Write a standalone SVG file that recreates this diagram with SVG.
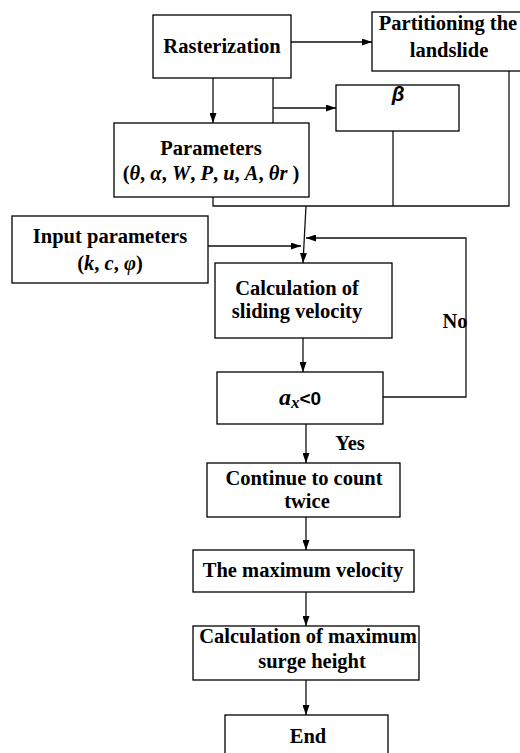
<svg xmlns="http://www.w3.org/2000/svg" width="520" height="753" viewBox="0 0 520 753">
<style>
.box{fill:#fff;stroke:#000;stroke-width:1.3}
.ln{fill:none;stroke:#111;stroke-width:1.3}
.t{font-family:"Liberation Serif","Times New Roman",serif;font-weight:bold;font-size:20.5px;fill:#000;text-anchor:middle}
.i{font-style:italic}
.s{font-family:"Liberation Sans",Arial,sans-serif}
</style>
<defs>
<marker id="ah" viewBox="0 0 10 7" refX="10" refY="3.5" markerWidth="10" markerHeight="7" markerUnits="userSpaceOnUse" orient="auto">
<path d="M0,0 L10,3.5 L0,7 Z" fill="#000"/>
</marker>
</defs>
<rect width="520" height="753" fill="#fff"/>
<g id="connectors">
<line class="ln" x1="291" y1="42" x2="372" y2="42" marker-end="url(#ah)"/>
<line class="ln" x1="213" y1="78" x2="213" y2="123" marker-end="url(#ah)"/>
<polyline class="ln" points="273,78 273,123"/>
<line class="ln" x1="273" y1="108" x2="336" y2="108" marker-end="url(#ah)"/>
<polyline class="ln" points="213,197 213,206 509,206 509,71"/>
<line class="ln" x1="393" y1="131" x2="393" y2="206"/>
<line class="ln" x1="306" y1="206" x2="303" y2="263" marker-end="url(#ah)"/>
<line class="ln" x1="208" y1="246" x2="301" y2="246" marker-end="url(#ah)"/>
<polyline class="ln" points="383,397 466,397 466,238 306,238" marker-end="url(#ah)"/>
<line class="ln" x1="303" y1="338" x2="303" y2="372" marker-end="url(#ah)"/>
<line class="ln" x1="306" y1="424" x2="306" y2="463" marker-end="url(#ah)"/>
<line class="ln" x1="306" y1="517" x2="306" y2="550" marker-end="url(#ah)"/>
<line class="ln" x1="306" y1="592" x2="306" y2="626" marker-end="url(#ah)"/>
<line class="ln" x1="306" y1="680" x2="306" y2="715" marker-end="url(#ah)"/>
<text class="t" x="455" y="328" font-size="19.5">No</text>
<text class="t" x="350" y="450" font-size="19.5">Yes</text>
</g>
<g id="rasterization">
<rect class="box" x="153" y="15" width="138" height="63"/>
<text class="t" x="222" y="53">Rasterization</text>
</g>
<g id="partitioning">
<rect class="box" x="372" y="12" width="160" height="59"/>
<text class="t" x="448" y="30">Partitioning the</text>
<text class="t" x="449" y="57">landslide</text>
</g>
<g id="beta">
<rect class="box" x="336" y="85" width="123" height="46"/>
<text class="t s i" x="398" y="101" font-size="17">β</text>
</g>
<g id="parameters">
<rect class="box" x="114" y="123" width="195" height="74"/>
<text class="t" x="211" y="155">Parameters</text>
<text class="t" x="211" y="180">(<tspan class="i">θ</tspan>, <tspan class="i">α</tspan>, <tspan class="i">W</tspan>, <tspan class="i">P</tspan>, <tspan class="i">u</tspan>, <tspan class="i">A</tspan>, <tspan class="i">θr</tspan> )</text>
</g>
<g id="input">
<rect class="box" x="12" y="216" width="196" height="67"/>
<text class="t" x="110" y="243">Input parameters</text>
<text class="t" x="110" y="270">(<tspan class="i">k</tspan>, <tspan class="i">c</tspan>, <tspan class="i">φ</tspan>)</text>
</g>
<g id="calc-velocity">
<rect class="box" x="215" y="263" width="177" height="75"/>
<text class="t" x="297" y="295">Calculation of</text>
<text class="t" x="297" y="318">sliding velocity</text>
</g>
<g id="ax">
<rect class="box" x="217" y="372" width="166" height="52"/>
<text class="t" x="300" y="405"><tspan class="i" font-size="24">a</tspan><tspan class="i" font-size="17" dy="3">x</tspan><tspan class="s" font-size="19" dy="-3">&lt;0</tspan></text>
</g>
<g id="continue">
<rect class="box" x="207" y="463" width="193" height="54"/>
<text class="t" x="304" y="485">Continue to count</text>
<text class="t" x="307" y="508">twice</text>
</g>
<g id="max-velocity">
<rect class="box" x="193" y="550" width="221" height="42"/>
<text class="t" x="303" y="577">The maximum velocity</text>
</g>
<g id="surge">
<rect class="box" x="193" y="626" width="226" height="54"/>
<text class="t" x="308" y="643">Calculation of maximum</text>
<text class="t" x="312" y="668">surge height</text>
</g>
<g id="end">
<rect class="box" x="225" y="715" width="163" height="50"/>
<text class="t" x="308" y="743">End</text>
</g>
</svg>
